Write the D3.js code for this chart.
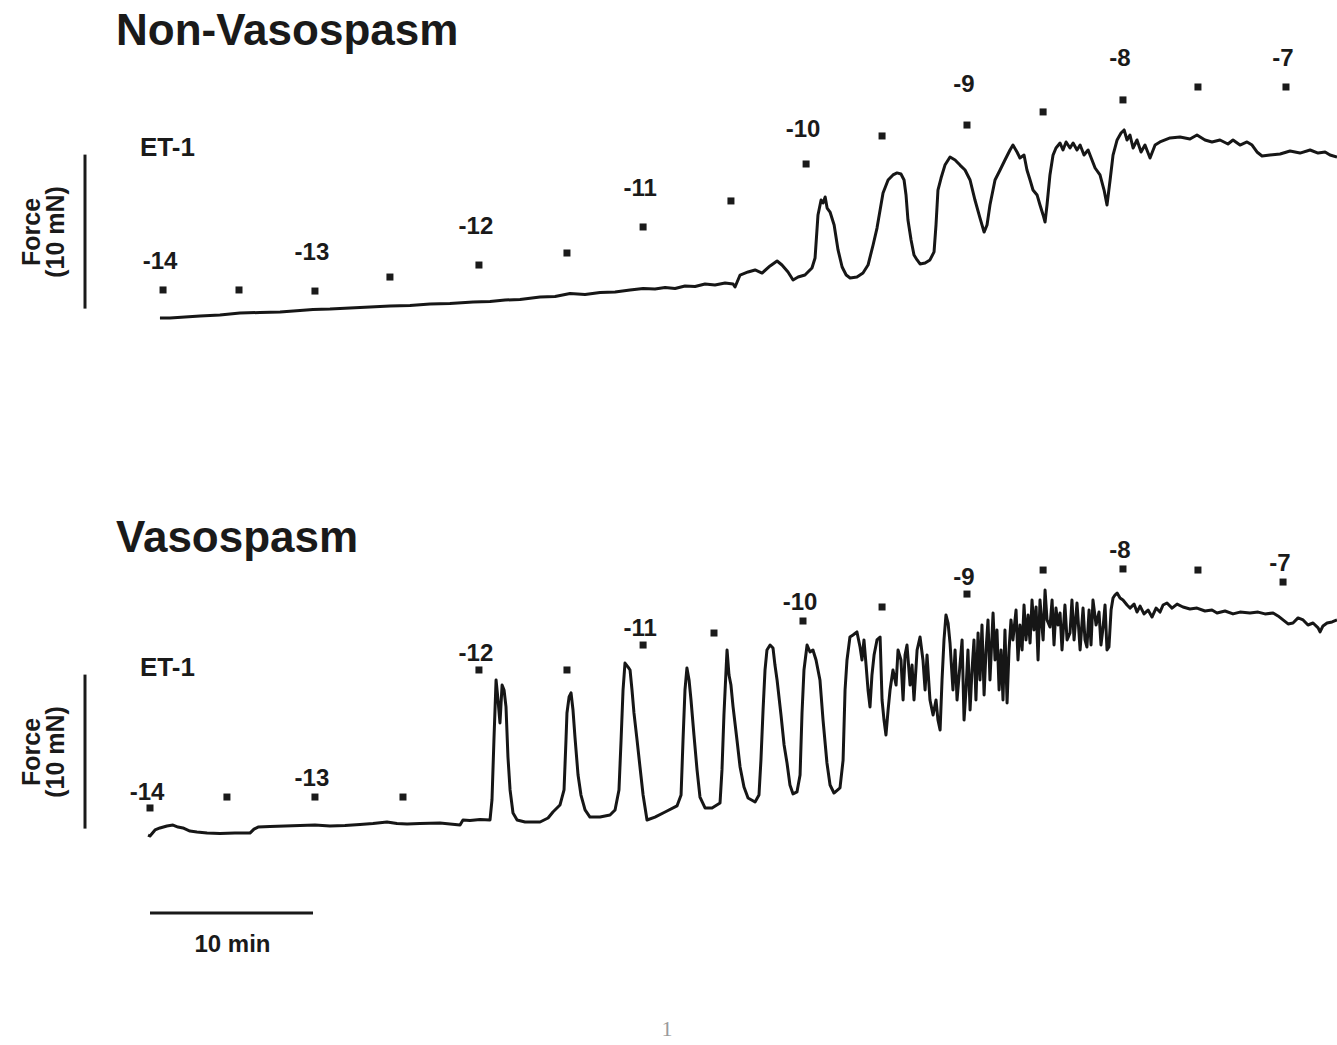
<!DOCTYPE html>
<html>
<head>
<meta charset="utf-8">
<script src="https://cdn.jsdelivr.net/npm/d3@7"></script>
<style>
  html, body { margin: 0; padding: 0; background: #fff; }
  svg { display: block; }
  text { font-family: "Liberation Sans", Arial, Helvetica, sans-serif; font-weight: bold; fill: #1a1a1a; }
</style>
</head>
<body>
<svg id="chart" width="1337" height="1045"></svg>
<script>
// ---------------- DATA ----------------
const panelTitles = ["Non-Vasospasm", "Vasospasm"];
const agonistName = "ET-1";
const doseLabels = ["-14", "-13", "-12", "-11", "-10", "-9", "-8", "-7"]; // log [ET-1] (M)
const forceBar = 10;   // mN
const timeBar = 10;    // min

// Non-vasospasm trace: [time (min), force (mN)]
const nonVasoTrace = [
[0.61,0.39],[1.23,0.39],[2.15,0.45],[3.07,0.52],[4.29,0.58],[5.52,0.71],[6.75,0.75],[7.98,0.78],[9.20,0.88],[10.0,0.94],
[11.04,0.97],[12.27,1.04],[13.50,1.10],[14.72,1.17],[15.95,1.20],[17.18,1.30],[18.40,1.33],[19.82,1.43],[20.86,1.46],[21.78,1.56],
[22.70,1.59],[23.93,1.75],[24.85,1.79],[25.77,1.98],[26.69,1.92],[27.61,2.05],[28.53,2.08],[29.45,2.21],[30.25,2.31],[30.98,2.27],
[31.60,2.37],[32.21,2.31],[32.82,2.47],[33.44,2.44],[34.05,2.60],[34.66,2.53],[35.28,2.66],[35.77,2.60],[35.89,2.40],[36.20,3.18],
[36.69,3.38],[37.12,3.51],[37.55,3.31],[38.04,3.77],[38.47,4.09],[38.77,3.83],[39.14,3.38],[39.45,2.86],[39.76,3.05],[40.18,3.18],
[40.61,3.64],[40.80,4.29],[40.98,7.08],[41.17,8.05],[41.29,7.86],[41.42,8.25],[41.54,7.53],[41.72,7.27],[41.97,6.43],[42.21,4.81],
[42.46,3.70],[42.71,3.18],[42.95,2.99],[43.37,3.05],[43.74,3.31],[44.05,3.83],[44.36,5.13],[44.60,6.23],[44.79,7.40],[44.97,8.51],
[45.28,9.35],[45.58,9.68],[45.83,9.81],[46.07,9.74],[46.26,9.35],[46.38,8.38],[46.50,6.75],[46.69,5.45],[46.87,4.48],[47.06,4.16],
[47.24,3.90],[47.55,3.96],[47.85,4.16],[48.10,4.68],[48.22,6.43],[48.34,8.70],[48.53,9.48],[48.77,10.32],[49.08,10.84],[49.39,10.65],
[49.69,10.32],[50.00,10.00],[50.31,9.35],[50.61,8.05],[50.92,6.88],[51.17,5.97],[51.35,6.43],[51.53,7.73],[51.84,9.35],[52.15,10.00],
[52.45,10.65],[52.76,11.30],[52.94,11.62],[53.19,11.17],[53.37,10.78],[53.62,10.97],[53.80,10.00],[53.99,9.35],[54.17,8.70],[54.42,8.38],
[54.60,7.73],[54.79,7.08],[54.91,6.62],[55.03,7.73],[55.21,9.68],[55.40,10.97],[55.58,11.43],[55.83,11.75],[56.01,11.30],[56.20,11.82],
[56.44,11.43],[56.63,11.75],[56.87,11.30],[57.06,11.62],[57.30,10.97],[57.55,11.30],[57.79,10.65],[57.98,10.13],[58.28,9.68],[58.53,8.70],
[58.71,7.73],[58.90,9.35],[59.08,10.97],[59.33,11.95],[59.57,12.40],[59.76,12.60],[59.94,11.95],[60.12,12.27],[60.31,11.43],[60.55,11.95],
[60.80,11.17],[61.04,11.62],[61.35,10.78],[61.66,11.62],[61.96,11.82],[62.27,11.95],[62.58,12.08],[63.19,12.14],[63.80,12.01],[64.23,12.27],
[64.72,11.95],[65.15,11.82],[65.64,11.95],[66.13,11.69],[66.44,11.95],[66.87,11.62],[67.30,11.82],[67.61,11.62],[67.91,11.17],[68.22,10.91],
[68.71,10.97],[69.33,11.04],[69.94,11.23],[70.55,11.10],[71.17,11.30],[71.66,11.10],[72.09,11.17],[72.39,10.97],[72.82,10.84]
];

// Vasospasm trace: [time (min), force (mN)]
const vasoTrace = [
[-0.12,0.58],[0,0.52],[0.31,0.91],[0.61,1.04],[1.04,1.17],[1.41,1.23],[1.72,1.10],[2.02,1.04],[2.45,0.84],[2.88,0.78],
[3.50,0.71],[4.29,0.68],[5.21,0.71],[6.13,0.71],[6.38,0.97],[6.63,1.10],[7.36,1.14],[8.28,1.17],[9.20,1.20],[10.12,1.23],
[11.04,1.17],[11.96,1.20],[12.88,1.27],[13.68,1.33],[14.54,1.43],[15.15,1.33],[15.77,1.30],[16.56,1.33],[17.79,1.36],[18.71,1.27],
[19.02,1.23],[19.20,1.56],[19.63,1.53],[20.25,1.59],[20.86,1.56],[20.98,2.86],[21.10,6.75],[21.23,10.65],[21.35,9.35],[21.47,7.86],
[21.60,10.32],[21.72,10.00],[21.84,8.90],[21.96,5.65],[22.09,3.51],[22.27,2.01],[22.52,1.56],[23.01,1.43],[23.93,1.43],[24.42,1.69],
[24.72,2.08],[25.15,2.53],[25.40,3.51],[25.52,6.75],[25.58,8.51],[25.71,9.55],[25.83,9.81],[25.95,8.70],[26.07,6.95],[26.26,4.48],
[26.44,3.18],[26.69,2.21],[26.99,1.75],[27.61,1.75],[28.22,1.88],[28.53,2.21],[28.77,3.51],[28.90,6.75],[29.02,10.00],[29.14,11.75],
[29.33,11.49],[29.45,11.30],[29.57,10.00],[29.69,8.51],[29.88,6.75],[30.06,5.00],[30.25,3.18],[30.49,1.56],[30.98,1.75],[31.60,2.08],
[32.33,2.47],[32.58,3.18],[32.70,6.75],[32.82,10.00],[32.94,11.43],[33.07,10.65],[33.19,9.35],[33.37,7.08],[33.56,4.81],[33.74,3.05],
[34.05,2.34],[34.48,2.34],[34.97,2.66],[35.09,4.81],[35.21,8.38],[35.34,11.30],[35.40,12.60],[35.52,10.97],[35.64,10.32],[35.77,8.90],
[36.01,6.75],[36.20,5.00],[36.44,3.70],[36.69,2.99],[37.12,2.73],[37.36,3.18],[37.48,5.45],[37.61,8.70],[37.73,11.30],[37.85,12.60],
[38.04,12.92],[38.22,12.73],[38.34,11.62],[38.47,10.65],[38.71,8.38],[38.90,6.43],[39.08,5.26],[39.26,3.83],[39.45,3.25],[39.69,3.38],
[39.88,4.48],[40.00,8.51],[40.12,11.30],[40.31,12.92],[40.49,12.47],[40.67,12.60],[40.86,11.95],[41.10,10.65],[41.29,8.05],[41.53,5.26],
[41.72,3.83],[41.96,3.31],[42.33,3.64],[42.52,5.45],[42.64,10.00],[42.76,11.95],[42.94,13.44],[43.13,13.57],[43.37,13.77],[43.56,12.79],
[43.68,11.95],[43.80,13.25],[43.93,11.62],[44.05,10.00],[44.17,8.90],[44.29,10.97],[44.42,12.27],[44.60,13.25],[44.79,13.44],[44.91,9.35],
[45.03,8.05],[45.15,7.08],[45.28,8.70],[45.40,10.00],[45.58,11.30],[45.77,10.32],[45.89,12.60],[46.07,11.95],[46.20,9.35],[46.32,12.27],
[46.44,12.92],[46.63,10.32],[46.75,11.62],[46.87,9.35],[47.06,12.60],[47.24,13.44],[47.42,11.95],[47.55,10.00],[47.67,12.27],[47.85,9.35],
[48.04,8.38],[48.22,9.35],[48.34,8.05],[48.47,7.40],[48.59,10.65],[48.71,13.25],[48.83,14.87],[48.96,14.35],[49.08,13.05],[49.26,10.00],
[49.39,12.60],[49.51,9.35],[49.69,11.62],[49.82,13.25],[49.94,8.05],[50.06,10.00],[50.18,12.60],[50.31,8.70],[50.43,11.30],[50.55,13.25],
[50.67,9.35],[50.80,13.70],[50.92,10.65],[51.04,14.22],[51.17,9.68],[51.29,12.60],[51.41,14.55],[51.53,10.65],[51.72,15.00],[51.84,11.95],
[51.96,13.90],[52.09,10.00],[52.21,12.60],[52.33,9.35],[52.45,13.90],[52.58,9.16],[52.70,12.60],[52.82,14.55],[52.94,13.25],[53.13,15.19],
[53.25,11.95],[53.37,14.22],[53.50,12.60],[53.62,15.52],[53.74,13.25],[53.87,14.87],[53.99,13.05],[54.11,15.84],[54.23,13.90],[54.36,15.39],
[54.48,11.95],[54.60,15.84],[54.79,13.25],[54.91,16.49],[55.03,14.55],[55.21,14.09],[55.34,15.84],[55.46,12.92],[55.58,15.32],[55.71,14.22],
[55.83,15.00],[55.95,12.60],[56.13,15.52],[56.26,13.25],[56.44,13.70],[56.56,15.84],[56.69,13.25],[56.87,15.65],[57.06,12.60],[57.24,15.32],
[57.36,13.25],[57.48,12.79],[57.61,15.19],[57.73,12.92],[57.85,15.84],[58.04,14.22],[58.22,15.06],[58.34,12.92],[58.47,14.09],[58.59,15.52],
[58.71,12.60],[58.83,12.79],[58.96,15.19],[59.08,15.97],[59.20,16.17],[59.33,16.30],[59.51,15.97],[59.69,15.84],[59.94,15.52],[60.12,15.32],
[60.37,15.58],[60.55,15.06],[60.74,15.45],[60.98,14.94],[61.23,15.19],[61.47,14.74],[61.72,15.32],[61.96,15.06],[62.15,15.52],[62.39,15.65],
[62.70,15.32],[63.01,15.58],[63.37,15.39],[63.80,15.26],[64.23,15.32],[64.72,15.13],[65.15,15.19],[65.46,15.00],[65.95,15.13],[66.44,14.94],
[66.87,15.06],[67.48,15.00],[67.98,15.06],[68.40,14.94],[68.90,15.00],[69.20,14.81],[69.51,14.55],[69.82,14.29],[70.12,14.35],[70.43,14.68],
[70.74,14.55],[71.04,14.22],[71.35,14.35],[71.66,14.03],[71.78,13.77],[71.96,14.16],[72.21,14.35],[72.52,14.42],[72.82,14.55]
];

// ET-1 addition markers (time in min, marker level in mN); labels on every second marker
const nonVasoDoseTimes  = [0.80, 5.46, 10.12, 14.72, 20.18, 25.58, 30.25, 35.64, 40.25, 44.91, 50.12, 54.79, 59.69, 64.29, 69.69];
const nonVasoDoseLevels = [2.21, 2.21, 2.14, 3.05, 3.83, 4.61, 6.30, 7.99, 10.39, 12.21, 12.92, 13.77, 14.55, 15.39, 15.39];
const nonVasoLabelLevels = [4.16, 4.74, 6.43, 8.90, 12.73, 15.65, 17.34, 17.34];

const vasoDoseTimes  = [0.00, 4.72, 10.12, 15.52, 20.18, 25.58, 30.25, 34.60, 40.06, 44.91, 50.12, 54.79, 59.69, 64.29, 69.51];
const vasoDoseLevels = [2.34, 3.05, 3.05, 3.05, 11.30, 11.30, 12.92, 13.70, 14.48, 15.39, 16.23, 17.79, 17.86, 17.79, 17.01];
const vasoLabelLevels = [3.44, 4.35, 12.47, 14.09, 15.78, 17.40, 19.16, 18.31];

const pageNumber = "1";

// ---------------- DRAW ----------------
const svg = d3.select("#chart");

const x = d3.scaleLinear().domain([0, 72.82]).range([150, 1337]);

const panels = [
  { title: panelTitles[0], trace: nonVasoTrace, doseT: nonVasoDoseTimes, doseL: nonVasoDoseLevels, labL: nonVasoLabelLevels,
    y: d3.scaleLinear().domain([0, 10]).range([324, 170]), titleY: 45, etY: 156, forceMid: 232 },
  { title: panelTitles[1], trace: vasoTrace, doseT: vasoDoseTimes, doseL: vasoDoseLevels, labL: vasoLabelLevels,
    y: d3.scaleLinear().domain([0, 10]).range([844, 690]), titleY: 552, etY: 676, forceMid: 752 }
];

panels.forEach(p => {
  const g = svg.append("g");
  const y = p.y;

  g.append("text").attr("x", 116).attr("y", p.titleY)
    .attr("font-size", 44).text(p.title);

  g.append("text").attr("x", 140).attr("y", p.etY)
    .attr("font-size", 26).text(agonistName);

  g.append("line")
    .attr("x1", 85).attr("x2", 85)
    .attr("y1", y(1)).attr("y2", y(1 + forceBar))
    .attr("stroke", "#1a1a1a").attr("stroke-width", 3);

  g.append("text")
    .attr("transform", `translate(40,${p.forceMid}) rotate(-90)`)
    .attr("text-anchor", "middle").attr("font-size", 25).text("Force");
  g.append("text")
    .attr("transform", `translate(64,${p.forceMid}) rotate(-90)`)
    .attr("text-anchor", "middle").attr("font-size", 25).text(`(${forceBar} mN)`);

  const line = d3.line().x(d => x(d[0])).y(d => y(d[1]));
  g.append("path").datum(p.trace)
    .attr("d", line)
    .attr("fill", "none")
    .attr("stroke", "#161616")
    .attr("stroke-width", 3)
    .attr("stroke-linejoin", "round");

  g.selectAll("rect.dose").data(p.doseT).join("rect")
    .attr("class", "dose")
    .attr("x", (d) => x(d) - 3.5)
    .attr("y", (d, i) => y(p.doseL[i]) - 3.5)
    .attr("width", 7).attr("height", 7)
    .attr("fill", "#1a1a1a");

  g.selectAll("text.dl").data(doseLabels).join("text")
    .attr("class", "dl")
    .attr("x", (d, i) => x(p.doseT[i * 2]) - 3)
    .attr("y", (d, i) => y(p.labL[i]))
    .attr("dy", "0.36em")
    .attr("text-anchor", "middle")
    .attr("font-size", 24)
    .text(d => d);
});

// time scale bar
svg.append("line")
  .attr("x1", x(0)).attr("x2", x(timeBar))
  .attr("y1", 913).attr("y2", 913)
  .attr("stroke", "#1a1a1a").attr("stroke-width", 3);
svg.append("text")
  .attr("x", (x(0) + x(timeBar)) / 2 + 1).attr("y", 952)
  .attr("text-anchor", "middle").attr("font-size", 24)
  .text(`${timeBar} min`);

// page number
svg.append("text")
  .attr("x", 667).attr("y", 1036)
  .attr("text-anchor", "middle")
  .attr("font-size", 22)
  .style("font-family", "'Liberation Serif', 'DejaVu Serif', serif")
  .style("font-weight", "normal")
  .style("fill", "#9a9a9a")
  .text(pageNumber);
</script>
</body>
</html>
